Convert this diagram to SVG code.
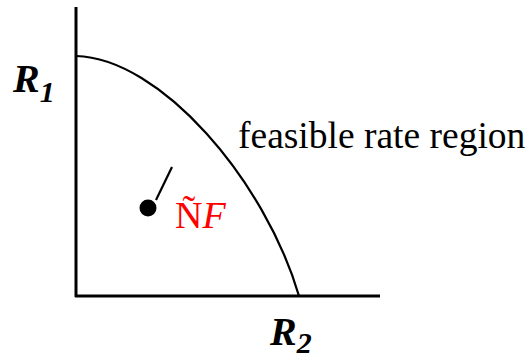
<svg xmlns="http://www.w3.org/2000/svg" width="530" height="358" viewBox="0 0 530 358">
<style>
.ax{stroke:#000;stroke-width:3;fill:none}
.ln{stroke:#000;stroke-width:2.2;fill:none}
.lbl{font-family:"Liberation Serif","Times New Roman",serif;font-weight:bold;font-style:italic;fill:#000}
.txt{font-family:"Liberation Serif","Times New Roman",serif;fill:#000}
</style>
<rect width="530" height="358" fill="#fff"/>
<g id="connectors">
<line class="ax" x1="76" y1="7" x2="76" y2="297"/>
<line class="ax" x1="75" y1="296" x2="380" y2="296"/>
<path id="region-curve" class="ln" d="M76,56 C160,58 265,180 299,296"/>
<line class="ln" x1="156" y1="200" x2="172" y2="167"/>
</g>
<g id="axis-r1"><text class="lbl" x="13" y="92" font-size="40">R<tspan font-size="30" dy="10">1</tspan></text></g>
<g id="axis-r2"><text class="lbl" x="270" y="345" font-size="40">R<tspan font-size="30" dy="8">2</tspan></text></g>
<g id="region-label"><text class="txt" x="238" y="148" font-size="37.5">feasible rate region</text></g>
<g id="point">
<circle cx="148" cy="208" r="8.5" fill="#000"/>
<text class="txt" x="175" y="228" font-size="38" style="fill:#ff0000">Ñ<tspan font-style="italic">F</tspan></text>
</g>
</svg>
